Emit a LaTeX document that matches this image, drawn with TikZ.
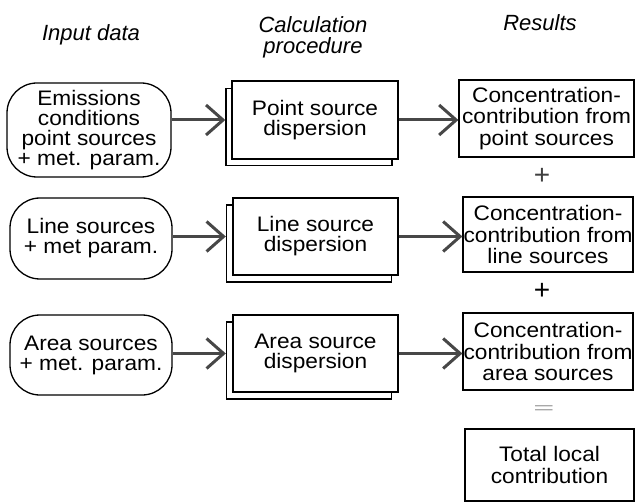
\documentclass[tikz,border=0pt]{standalone}
\usepackage{fontspec}
\setmainfont{Liberation Sans}
\newfontfamily\boxfont{Liberation Sans}[FakeStretch=1.08]
\usetikzlibrary{arrows.meta}

\begin{document}
\begin{tikzpicture}[x=1pt,y=-1pt,
  boxtext/.style={font=\fontsize{21}{20}\boxfont, align=center, inner sep=0pt},
  inputbox/.style={boxtext, draw, line width=1.3pt, rounded corners=30pt},
  procbox/.style={boxtext, draw, fill=white, line width=1.4pt},
  resbox/.style={boxtext, draw, line width=1.2pt, font=\fontsize{21}{21.5}\boxfont},
  heading/.style={font=\fontsize{22}{21.5}\selectfont\itshape, align=center, inner sep=0pt},
  flow/.style={draw=black!72, line width=3pt, -{Straight Barb[length=17pt,width=30pt]}},
  opsign/.style={font=\fontsize{28}{28}\selectfont, inner sep=0pt},
]
\useasboundingbox (0,0) rectangle (636,502);

% column headings
\node[heading, anchor=base] (h1) at (91,41) {Input data};
\node[heading, anchor=base] (h2) at (313,54) {Calculation\\procedure};
\node[heading, anchor=base] (h3) at (540,31) {Results};

% input data
\node[inputbox, minimum width=164pt, minimum height=94pt] (r1) at (89,130)
  {Emissions\\conditions\\point sources\\+ met. param.};
\node[inputbox, minimum width=162pt, minimum height=81pt] (r2) at (91,238.5)
  {Line sources\\+ met param.};
\node[inputbox, minimum width=162pt, minimum height=80pt] (r3) at (91,355)
  {Area sources\\+ met. param.};

% calculation steps, each drawn as a small stack of sheets
\node[procbox, minimum width=166pt, minimum height=77pt] (p1b) at (309,127) {};
\node[procbox, minimum width=166pt, minimum height=78pt] (p1) at (315,120)
  {Point source\\dispersion};
\node[procbox, minimum width=165pt, minimum height=77pt] (p2b) at (309,243.5) {};
\node[procbox, minimum width=165pt, minimum height=77pt] (p2) at (315.5,236.5)
  {Line source\\dispersion};
\node[procbox, minimum width=165pt, minimum height=77pt] (p3b) at (309,360.5) {};
\node[procbox, minimum width=165pt, minimum height=77pt] (p3) at (315.5,353.5)
  {Area source\\dispersion};

% results
\node[resbox, minimum width=175pt, minimum height=77pt] (q1) at (546.5,118.5)
  {Concentration-\\contribution from\\point sources};
\node[resbox, minimum width=170pt, minimum height=75pt] (q2) at (548,234.5)
  {Concentration-\\contribution from\\line sources};
\node[resbox, minimum width=170pt, minimum height=77pt] (q3) at (548,351.5)
  {Concentration-\\contribution from\\area sources};
\node[resbox, minimum width=169pt, minimum height=72pt] (tot) at (549.5,465)
  {Total local\\contribution};

% operators between the results
\node[opsign, black!75] (plus1) at (542,176) {+};
\node[opsign] (plus2) at (542,291) {+};
\node[inner sep=0pt, text=black!40, font=\fontsize{20}{20}\selectfont] (eq) at (544,410)
  {\scalebox{1.8}[0.8]{=}};

% data flow
\draw[flow] (r1.east |- p1) -- (p1b.west |- p1);
\draw[flow] (r2.east |- p2) -- (p2b.west |- p2);
\draw[flow] (r3.east |- p3) -- (p3b.west |- p3);
\draw[flow] (p1.east) -- (q1.west |- p1);
\draw[flow] (p2.east) -- (q2.west |- p2);
\draw[flow] (p3.east) -- (q3.west |- p3);
\end{tikzpicture}
\end{document}
